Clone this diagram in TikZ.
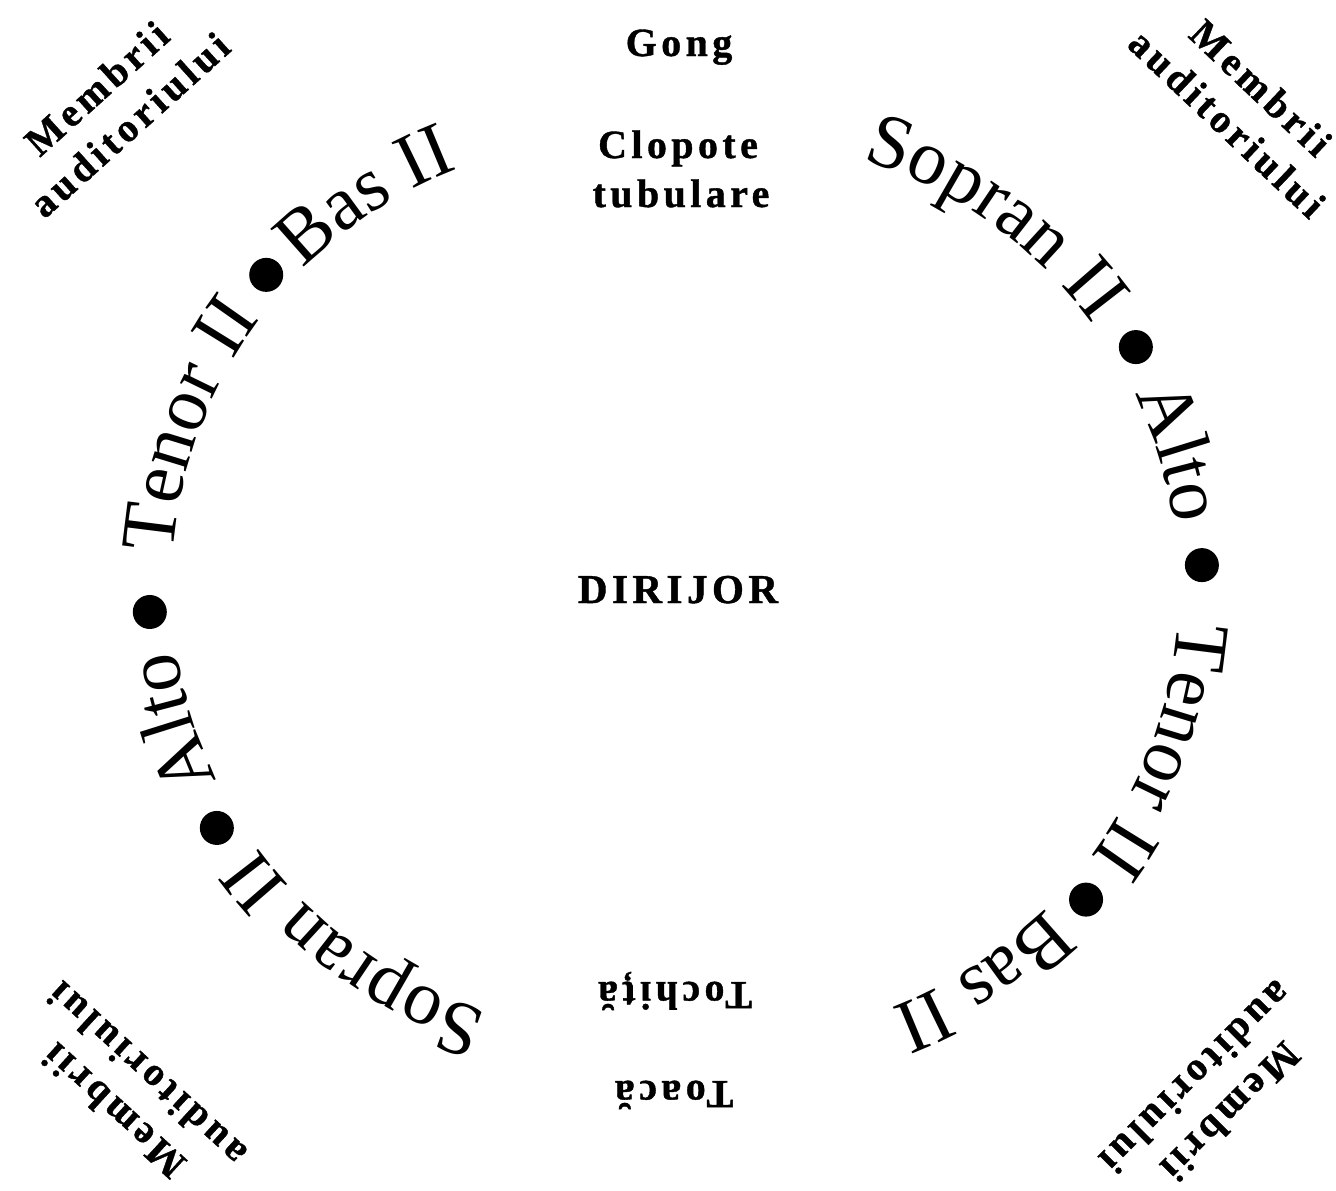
\documentclass[tikz,border=0pt]{standalone}
\usepackage{fontspec}
\setmainfont{Liberation Serif}
\newfontfamily\lblfont[LetterSpace=11, BoldFeatures={FakeBold=1}]{Liberation Serif}
\usetikzlibrary{decorations.text}
\newcommand\circfont{\fontsize{77}{92}\selectfont}
% #1,#2 centre, #3 baseline radius, #4 centre angle, #5 word
\newcommand\arcword[5]{%
  \path[decoration={text along path, text align=center, text={|\circfont|#5}}, decorate]
    ({#1+#3*cos(#4+40)},{#2+#3*sin(#4+40)}) arc[start angle={#4+40}, end angle={#4-40}, radius=#3pt];}
\tikzset{
  lbl/.style={font=\lblfont\bfseries\fontsize{40}{49}\selectfont, inner sep=0pt},
  dot/.style={circle, fill=black, inner sep=0pt, minimum size=34pt}
}
\begin{document}
\begin{tikzpicture}[x=1pt,y=1pt]
\fill[white] (0,0) rectangle (1336,-1191);
\useasboundingbox (0,0) rectangle (1336,-1191);
\coordinate (cR) at (730,-589);
\coordinate (cL) at (618,-585);
% right arc
\arcword{730}{-589}{449}{54.5}{Sopran II}
\arcword{730}{-589}{449}{17}{Alto}
\arcword{730}{-589}{449}{-20.4}{Tenor II}
\arcword{730}{-589}{449}{-57.1}{Bas II}
\node[dot] (bR1) at ({730+472.5*cos(30.8)},{-589+472.5*sin(30.8)}) {};
\node[dot] (bR2) at ({730+472.5*cos(2.9)},{-589+472.5*sin(2.9)}) {};
\node[dot] (bR3) at ({730+472.5*cos(-41.1)},{-589+472.5*sin(-41.1)}) {};
% left arc
\arcword{618}{-585}{446}{234.5}{Sopran II}
\arcword{618}{-585}{446}{197.2}{Alto}
\arcword{618}{-585}{446}{159.6}{Tenor II}
\arcword{618}{-585}{446}{122.9}{Bas II}
\node[dot] (bL1) at ({618+469*cos(138.6)},{-585+469*sin(138.6)}) {};
\node[dot] (bL2) at ({618+469*cos(183.3)},{-585+469*sin(183.3)}) {};
\node[dot] (bL3) at ({618+469*cos(211.2)},{-585+469*sin(211.2)}) {};
% labels
\node[lbl, anchor=base] (gong) at (679,-56) {Gong};
\node[lbl, anchor=base] (clop) at (678,-158) {Clopote};
\node[lbl, anchor=base] (tub) at (681,-207) {tubulare};
\node[lbl, anchor=base, font=\lblfont\bfseries\fontsize{41}{50}\selectfont] (dir) at (678,-603) {DIRIJOR};
\node[lbl, anchor=base, rotate=180] (toch) at (675,-982) {Tochiță};
\node[lbl, anchor=base, rotate=180] (toac) at (674,-1081) {Toacă};
\node[lbl, align=center, rotate=42] (mTL) at (113,-106.5) {Membrii\\auditoriului};
\node[lbl, align=center, rotate=-43.5] (mTR) at (1244,-105.5) {Membrii\\auditoriului};
\node[lbl, align=center, rotate=137.5] (mBL) at (130,-1093) {Membrii\\auditoriului};
\node[lbl, align=center, rotate=225] (mBR) at (1213.5,-1094.5) {Membrii\\auditoriului};
\end{tikzpicture}
\end{document}
